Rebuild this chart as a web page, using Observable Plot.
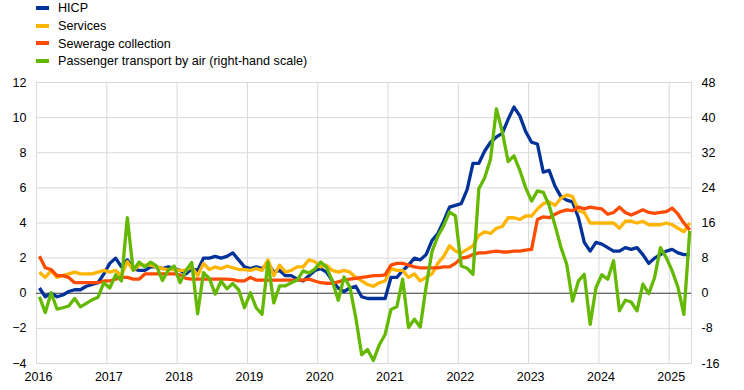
<!DOCTYPE html>
<html>
<head>
<meta charset="utf-8">
<script src="https://cdn.jsdelivr.net/npm/d3@7"></script>
<script src="https://cdn.jsdelivr.net/npm/@observablehq/plot@0.6"></script>
<style>
  html, body { margin: 0; padding: 0; background: #fff; }
  body { font-family: "Liberation Sans", Arial, sans-serif; }
  #wrap { position: relative; width: 744px; height: 390px; }
  #legend { position: relative; width: 744px; height: 70px; }
  .row { position: absolute; left: 0; height: 17px; line-height: 17px; font-size: 12.6px; color: #000; white-space: nowrap; }
  .sw { position: absolute; left: 36px; top: 5.5px; width: 13px; height: 4px; }
  .lb { position: absolute; left: 58px; top: 0; }
  #chart svg { display: block; }
</style>
</head>
<body>
<div id="wrap">
  <div id="legend"></div>
  <div id="chart"></div>
</div>
<script>
// ---- Data (monthly, Jan 2016 – Apr 2025, annual % changes) ----
const startYear = 2016;

const seriesNames = [
  "HICP",
  "Services",
  "Sewerage collection",
  "Passenger transport by air (right-hand scale)"
];

const hicp = [
  0.3,-0.2,0.0,-0.2,-0.1,0.1,0.2,0.2,0.4,0.5,0.6,1.1,
  1.7,2.0,1.5,1.9,1.4,1.3,1.3,1.5,1.5,1.4,1.5,1.4,
  1.3,1.1,1.4,1.3,2.0,2.0,2.1,2.0,2.1,2.3,1.9,1.5,
  1.4,1.5,1.4,1.7,1.2,1.3,1.0,1.0,0.8,0.7,1.0,1.3,
  1.4,1.2,0.7,0.3,0.1,0.3,0.4,-0.2,-0.3,-0.3,-0.3,-0.3,
  0.9,0.9,1.3,1.6,2.0,1.9,2.2,3.0,3.4,4.1,4.9,5.0,
  5.1,5.9,7.4,7.4,8.1,8.6,8.9,9.1,9.9,10.6,10.1,9.2,
  8.6,8.5,6.9,7.0,6.1,5.5,5.3,5.2,4.3,2.9,2.4,2.9,
  2.8,2.6,2.4,2.4,2.6,2.5,2.6,2.2,1.7,2.0,2.2,2.4,
  2.5,2.3,2.2,2.2
];

const services = [
  1.2,0.9,1.3,0.9,1.0,1.1,1.2,1.1,1.1,1.1,1.2,1.3,
  1.2,1.3,1.0,1.8,1.3,1.6,1.6,1.6,1.5,1.4,1.35,1.35,
  1.3,1.3,1.5,1.0,1.7,1.35,1.5,1.4,1.55,1.45,1.35,1.35,
  1.3,1.4,1.3,1.9,1.0,1.6,1.2,1.3,1.5,1.5,1.9,1.8,
  1.5,1.6,1.3,1.2,1.3,1.2,0.9,0.7,0.5,0.4,0.6,0.7,
  1.4,1.3,1.3,0.9,1.1,0.7,0.9,1.1,1.7,2.1,2.7,2.4,
  2.3,2.5,2.7,3.3,3.5,3.4,3.7,3.8,4.3,4.3,4.2,4.4,
  4.4,4.8,5.1,5.2,5.0,5.4,5.6,5.5,4.7,4.6,4.0,4.0,
  4.0,4.0,4.0,3.7,4.1,4.1,4.0,4.1,3.9,3.9,3.9,4.0,
  3.9,3.7,3.5,4.0
];

const sewerage = [
  2.1,1.45,1.35,1.0,1.0,0.9,0.6,0.6,0.6,0.6,0.6,0.7,
  0.7,0.8,0.9,0.9,0.8,0.8,1.1,1.1,1.1,1.1,1.1,1.1,
  1.05,0.85,0.8,0.8,0.8,0.8,0.8,0.8,0.8,0.78,0.7,0.7,
  0.9,0.75,0.75,0.75,0.75,0.75,0.75,0.75,0.75,0.75,0.8,0.7,
  0.6,0.57,0.57,0.65,0.75,0.8,0.85,0.9,0.95,1.0,1.0,1.05,
  1.6,1.7,1.7,1.6,1.5,1.45,1.45,1.45,1.45,1.5,1.5,1.7,
  2.0,2.05,2.2,2.3,2.3,2.35,2.4,2.35,2.35,2.4,2.4,2.45,
  2.5,4.2,4.35,4.3,4.5,4.65,4.75,4.7,4.9,4.8,4.9,4.85,
  4.8,4.5,4.6,4.9,4.6,4.45,4.6,4.75,4.6,4.55,4.6,4.65,
  4.85,4.5,4.0,3.6
];

// right-hand scale values
const airTransport = [
  -0.8,-4.4,0.1,-3.6,-3.3,-2.9,-1.2,-3.1,-2.3,-1.5,-0.9,2.4,
  1.2,4.2,2.8,17.2,5.2,7.1,6.0,7.1,6.2,2.9,5.3,6.2,
  2.4,5.2,7.0,-4.7,4.7,3.4,-0.2,2.8,1.0,2.2,0.8,-3.3,
  0.1,-3.3,-4.8,7.1,-2.2,1.7,1.7,2.4,3.0,5.1,4.6,5.5,
  7.1,5.9,2.8,-1.6,3.7,1.4,-5.6,-14.0,-12.8,-15.3,-11.8,-9.4,
  -3.7,-3.1,3.2,-7.8,-5.9,-7.7,1.5,9.5,13.0,15.4,18.5,17.6,
  6.2,5.7,4.3,23.8,26.3,30.6,42.0,36.8,30.0,31.3,28.0,24.0,
  21.0,23.3,23.0,20.0,15.5,10.5,6.6,-1.8,2.8,4.3,-7.1,1.3,
  4.2,3.2,7.4,-4.0,-1.6,-2.0,-4.0,2.1,-0.1,3.6,10.4,8.1,
  5.1,1.3,-4.8,14.2
];

const yTicks = [-4, -2, 0, 2, 4, 6, 8, 10, 12];
const yRightTicks = [-16, -8, 0, 8, 16, 24, 32, 40, 48];
const xTickYears = [2016, 2017, 2018, 2019, 2020, 2021, 2022, 2023, 2024, 2025];
const rightToLeft = 4; // right-hand scale = 4 x left-hand scale

// ---- Styles ----
const seriesColors = ["#003299", "#ffb400", "#ff4b00", "#65b800"];

// ---- Legend ----
const legend = document.getElementById("legend");
seriesNames.forEach((name, i) => {
  const row = document.createElement("div");
  row.className = "row";
  row.style.top = (0.4 + 17.6 * i) + "px";
  const sw = document.createElement("span");
  sw.className = "sw";
  sw.style.background = seriesColors[i];
  const lb = document.createElement("span");
  lb.className = "lb";
  lb.textContent = name;
  row.appendChild(sw);
  row.appendChild(lb);
  legend.appendChild(row);
});

// ---- Chart ----
const toRows = (vals, div = 1) => vals.map((v, i) => ({ x: startYear + (i + 0.5) / 12, y: v / div }));
const rows = [
  toRows(hicp),
  toRows(services),
  toRows(sewerage),
  toRows(airTransport, rightToLeft)
];
const xEnd = startYear + (hicp.length - 0.2) / 12;

const chart = Plot.plot({
  width: 744,
  height: 320,
  marginTop: 12,
  marginBottom: 27,
  marginLeft: 36,
  marginRight: 53,
  style: { fontFamily: "'Liberation Sans', Arial, sans-serif", fontSize: "12.5px", color: "#000", background: "#fff", overflow: "visible" },
  x: { domain: [startYear, xEnd] },
  y: { domain: [-4, 12] },
  marks: [
    Plot.gridY(yTicks, { stroke: "#d9d9d9", strokeOpacity: 1, strokeWidth: 1 }),
    Plot.gridX(xTickYears, { stroke: "#d9d9d9", strokeOpacity: 1, strokeWidth: 1 }),
    Plot.frame({ stroke: "#d9d9d9", strokeWidth: 1 }),
    Plot.ruleY([0], { stroke: "#404040", strokeWidth: 1 }),
    Plot.axisY(yTicks, { anchor: "left", tickSize: 0, tickPadding: 10, label: null, fill: "#000" }),
    Plot.axisY(yRightTicks.map(t => t / rightToLeft), { anchor: "right", tickSize: 0, tickPadding: 10, label: null, fill: "#000", tickFormat: d => String(d * rightToLeft) }),
    Plot.axisX(xTickYears, { anchor: "bottom", tickSize: 0, tickPadding: 9, label: null, fill: "#000", tickFormat: d => String(d), dx: 2 }),
    ...rows.map((r, i) => Plot.line(r, { x: "x", y: "y", stroke: seriesColors[i], strokeWidth: 3.3, strokeLinejoin: "round", strokeLinecap: "butt" }))
  ]
});
document.getElementById("chart").appendChild(chart);
</script>
</body>
</html>
